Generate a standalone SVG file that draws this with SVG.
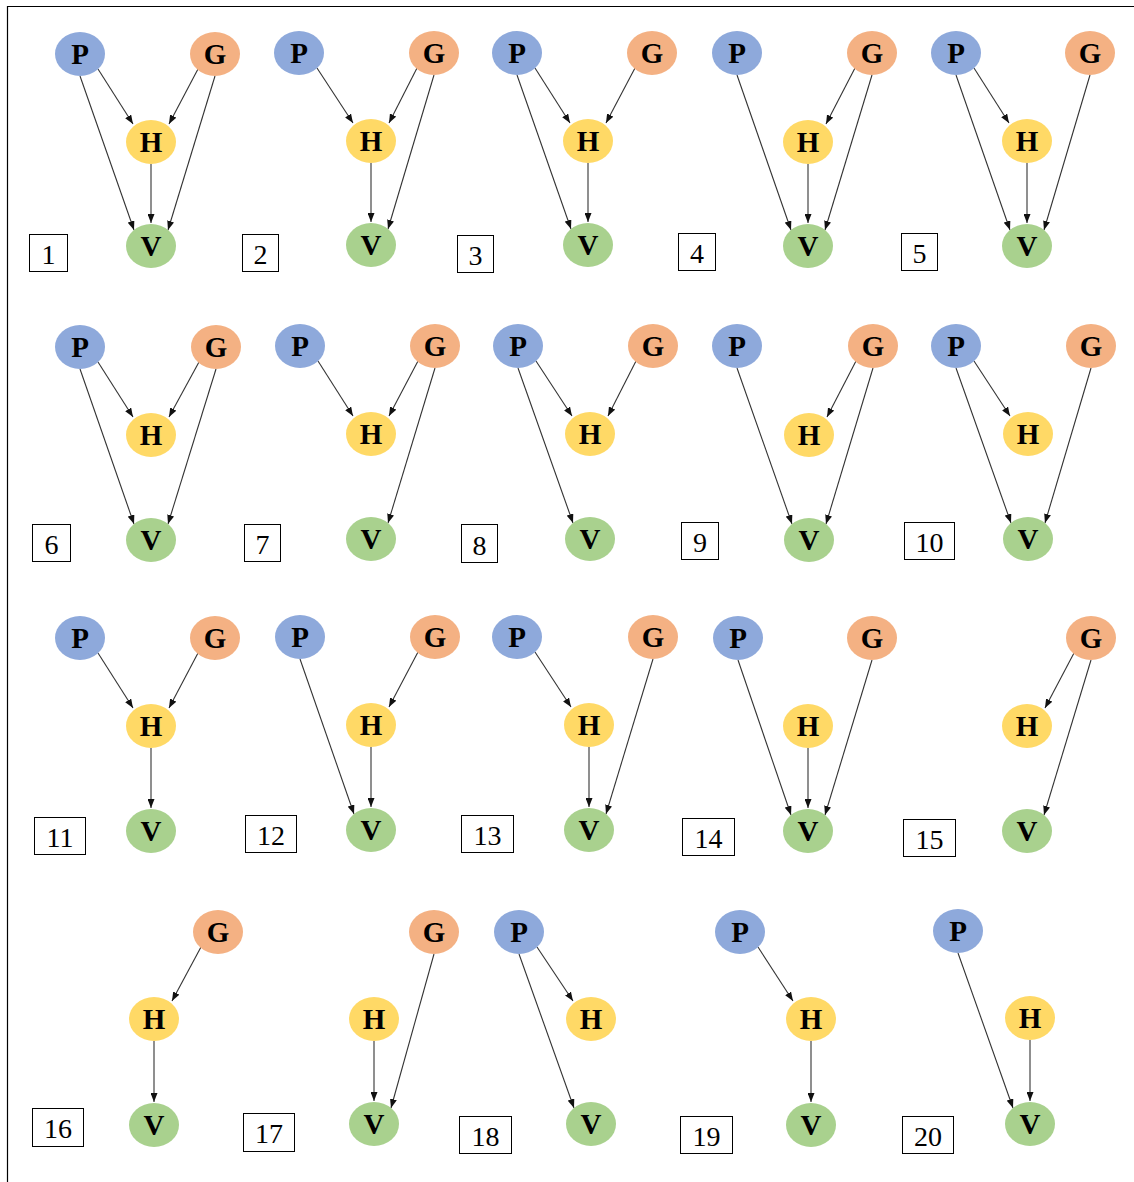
<svg xmlns="http://www.w3.org/2000/svg" width="1134" height="1182" viewBox="0 0 1134 1182">
<style>
.n{stroke:none}
.p{fill:#8EA9DB}.g{fill:#F4B183}.h{fill:#FFD966}.v{fill:#A9D18E}
.lb{font-family:"Liberation Serif","Times New Roman",serif;font-weight:bold;font-size:29px;fill:#000;text-anchor:middle}
.bx{fill:#fff;stroke:#000;stroke-width:1}
.num{font-family:"Liberation Serif","Times New Roman",serif;font-size:28px;fill:#000;text-anchor:middle}
.e{stroke:#333;stroke-width:1.1;fill:none;marker-end:url(#ah)}
.frame{stroke:#000;stroke-width:1.2;fill:none}
</style>
<defs>
<marker id="ah" markerUnits="userSpaceOnUse" markerWidth="9" markerHeight="7" refX="9" refY="3.5" orient="auto">
<path d="M0,0 L9,3.5 L0,7 z" fill="#111"/>
</marker>
<g id="nP"><ellipse class="p" rx="25" ry="22"/><text class="lb" y="10">P</text></g>
<g id="nG"><ellipse class="g" rx="25" ry="22"/><text class="lb" y="10">G</text></g>
<g id="nH"><ellipse class="h" rx="25" ry="22"/><text class="lb" y="10">H</text></g>
<g id="nV"><ellipse class="v" rx="25" ry="22"/><text class="lb" y="10">V</text></g>
</defs>
<rect width="1134" height="1182" fill="#fff"/>
<path class="frame" d="M7.5,1182 L7.5,6.5 L1134,6.5"/>

<g id="connectors">
<line class="e" x1="98" y1="69" x2="133" y2="124"/>
<line class="e" x1="198" y1="69" x2="169" y2="124"/>
<line class="e" x1="80" y1="76" x2="134" y2="230"/>
<line class="e" x1="215" y1="76" x2="168" y2="230"/>
<line class="e" x1="151" y1="164" x2="151" y2="223"/>

<line class="e" x1="317" y1="68" x2="353" y2="123"/>
<line class="e" x1="417" y1="68" x2="389" y2="123"/>
<line class="e" x1="434" y1="75" x2="388" y2="229"/>
<line class="e" x1="371" y1="163" x2="371" y2="222"/>

<line class="e" x1="535" y1="68" x2="570" y2="123"/>
<line class="e" x1="635" y1="68" x2="606" y2="123"/>
<line class="e" x1="517" y1="75" x2="571" y2="229"/>
<line class="e" x1="588" y1="163" x2="588" y2="222"/>

<line class="e" x1="855" y1="68" x2="826" y2="124"/>
<line class="e" x1="737" y1="75" x2="791" y2="230"/>
<line class="e" x1="808" y1="164" x2="808" y2="223"/>
<line class="e" x1="872" y1="75" x2="825" y2="230"/>

<line class="e" x1="974" y1="68" x2="1009" y2="123"/>
<line class="e" x1="956" y1="75" x2="1010" y2="230"/>
<line class="e" x1="1027" y1="163" x2="1027" y2="223"/>
<line class="e" x1="1090" y1="75" x2="1044" y2="230"/>

<line class="e" x1="98" y1="362" x2="133" y2="417"/>
<line class="e" x1="199" y1="362" x2="169" y2="417"/>
<line class="e" x1="80" y1="369" x2="134" y2="524"/>
<line class="e" x1="216" y1="369" x2="168" y2="524"/>

<line class="e" x1="318" y1="361" x2="353" y2="416"/>
<line class="e" x1="418" y1="361" x2="389" y2="416"/>
<line class="e" x1="435" y1="368" x2="388" y2="523"/>

<line class="e" x1="536" y1="361" x2="572" y2="416"/>
<line class="e" x1="636" y1="361" x2="608" y2="416"/>
<line class="e" x1="518" y1="368" x2="573" y2="523"/>

<line class="e" x1="856" y1="361" x2="827" y2="417"/>
<line class="e" x1="737" y1="368" x2="792" y2="524"/>
<line class="e" x1="873" y1="368" x2="826" y2="524"/>

<line class="e" x1="974" y1="361" x2="1010" y2="416"/>
<line class="e" x1="956" y1="368" x2="1011" y2="523"/>
<line class="e" x1="1091" y1="368" x2="1045" y2="523"/>

<line class="e" x1="98" y1="653" x2="133" y2="708"/>
<line class="e" x1="198" y1="653" x2="169" y2="708"/>
<line class="e" x1="151" y1="748" x2="151" y2="808"/>

<line class="e" x1="418" y1="652" x2="389" y2="707"/>
<line class="e" x1="300" y1="659" x2="354" y2="814"/>
<line class="e" x1="371" y1="747" x2="371" y2="807"/>

<line class="e" x1="535" y1="652" x2="571" y2="707"/>
<line class="e" x1="589" y1="747" x2="589" y2="807"/>
<line class="e" x1="653" y1="659" x2="606" y2="814"/>

<line class="e" x1="738" y1="660" x2="791" y2="815"/>
<line class="e" x1="808" y1="748" x2="808" y2="808"/>
<line class="e" x1="872" y1="660" x2="825" y2="815"/>

<line class="e" x1="1074" y1="653" x2="1045" y2="708"/>
<line class="e" x1="1091" y1="660" x2="1044" y2="815"/>

<line class="e" x1="201" y1="947" x2="172" y2="1001"/>
<line class="e" x1="154" y1="1041" x2="154" y2="1102"/>

<line class="e" x1="374" y1="1041" x2="374" y2="1101"/>
<line class="e" x1="434" y1="954" x2="391" y2="1108"/>

<line class="e" x1="537" y1="947" x2="573" y2="1001"/>
<line class="e" x1="519" y1="954" x2="574" y2="1108"/>

<line class="e" x1="758" y1="947" x2="793" y2="1001"/>
<line class="e" x1="811" y1="1041" x2="811" y2="1102"/>

<line class="e" x1="958" y1="953" x2="1013" y2="1108"/>
<line class="e" x1="1030" y1="1040" x2="1030" y2="1101"/>
</g>

<g id="panel1">
<g id="p1-P"><use href="#nP" x="80" y="54"/></g><g id="p1-G"><use href="#nG" x="215" y="54"/></g>
<g id="p1-H"><use href="#nH" x="151" y="142"/></g><g id="p1-V"><use href="#nV" x="151" y="246"/></g>
<g id="p1-label"><rect class="bx" x="29.5" y="234.5" width="38" height="37"/><text class="num" x="48.5" y="264">1</text></g>
</g>
<g id="panel2">
<g id="p2-P"><use href="#nP" x="299" y="53"/></g><g id="p2-G"><use href="#nG" x="434" y="53"/></g>
<g id="p2-H"><use href="#nH" x="371" y="141"/></g><g id="p2-V"><use href="#nV" x="371" y="245"/></g>
<g id="p2-label"><rect class="bx" x="242.5" y="234.5" width="36" height="37"/><text class="num" x="260.5" y="264">2</text></g>
</g>
<g id="panel3">
<g id="p3-P"><use href="#nP" x="517" y="53"/></g><g id="p3-G"><use href="#nG" x="652" y="53"/></g>
<g id="p3-H"><use href="#nH" x="588" y="141"/></g><g id="p3-V"><use href="#nV" x="588" y="245"/></g>
<g id="p3-label"><rect class="bx" x="457.5" y="235.5" width="36" height="37"/><text class="num" x="475.5" y="265">3</text></g>
</g>
<g id="panel4">
<g id="p4-P"><use href="#nP" x="737" y="53"/></g><g id="p4-G"><use href="#nG" x="872" y="53"/></g>
<g id="p4-H"><use href="#nH" x="808" y="142"/></g><g id="p4-V"><use href="#nV" x="808" y="246"/></g>
<g id="p4-label"><rect class="bx" x="678.5" y="233.5" width="37" height="37"/><text class="num" x="697" y="263">4</text></g>
</g>
<g id="panel5">
<g id="p5-P"><use href="#nP" x="956" y="53"/></g><g id="p5-G"><use href="#nG" x="1090" y="53"/></g>
<g id="p5-H"><use href="#nH" x="1027" y="141"/></g><g id="p5-V"><use href="#nV" x="1027" y="246"/></g>
<g id="p5-label"><rect class="bx" x="901.5" y="233.5" width="36" height="37"/><text class="num" x="919.5" y="263">5</text></g>
</g>

<g id="panel6">
<g id="p6-P"><use href="#nP" x="80" y="347"/></g><g id="p6-G"><use href="#nG" x="216" y="347"/></g>
<g id="p6-H"><use href="#nH" x="151" y="435"/></g><g id="p6-V"><use href="#nV" x="151" y="540"/></g>
<g id="p6-label"><rect class="bx" x="32.5" y="524.5" width="38" height="37"/><text class="num" x="51.5" y="554">6</text></g>
</g>
<g id="panel7">
<g id="p7-P"><use href="#nP" x="300" y="346"/></g><g id="p7-G"><use href="#nG" x="435" y="346"/></g>
<g id="p7-H"><use href="#nH" x="371" y="434"/></g><g id="p7-V"><use href="#nV" x="371" y="539"/></g>
<g id="p7-label"><rect class="bx" x="244.5" y="524.5" width="36" height="37"/><text class="num" x="262.5" y="554">7</text></g>
</g>
<g id="panel8">
<g id="p8-P"><use href="#nP" x="518" y="346"/></g><g id="p8-G"><use href="#nG" x="653" y="346"/></g>
<g id="p8-H"><use href="#nH" x="590" y="434"/></g><g id="p8-V"><use href="#nV" x="590" y="539"/></g>
<g id="p8-label"><rect class="bx" x="461.5" y="524.5" width="36" height="38"/><text class="num" x="479.5" y="555">8</text></g>
</g>
<g id="panel9">
<g id="p9-P"><use href="#nP" x="737" y="346"/></g><g id="p9-G"><use href="#nG" x="873" y="346"/></g>
<g id="p9-H"><use href="#nH" x="809" y="435"/></g><g id="p9-V"><use href="#nV" x="809" y="540"/></g>
<g id="p9-label"><rect class="bx" x="681.5" y="522.5" width="37" height="37"/><text class="num" x="700" y="552">9</text></g>
</g>
<g id="panel10">
<g id="p10-P"><use href="#nP" x="956" y="346"/></g><g id="p10-G"><use href="#nG" x="1091" y="346"/></g>
<g id="p10-H"><use href="#nH" x="1028" y="434"/></g><g id="p10-V"><use href="#nV" x="1028" y="539"/></g>
<g id="p10-label"><rect class="bx" x="904.5" y="522.5" width="50" height="37"/><text class="num" x="929.5" y="552">10</text></g>
</g>

<g id="panel11">
<g id="p11-P"><use href="#nP" x="80" y="638"/></g><g id="p11-G"><use href="#nG" x="215" y="638"/></g>
<g id="p11-H"><use href="#nH" x="151" y="726"/></g><g id="p11-V"><use href="#nV" x="151" y="831"/></g>
<g id="p11-label"><rect class="bx" x="34.5" y="817.5" width="51" height="37"/><text class="num" x="60" y="847">11</text></g>
</g>
<g id="panel12">
<g id="p12-P"><use href="#nP" x="300" y="637"/></g><g id="p12-G"><use href="#nG" x="435" y="637"/></g>
<g id="p12-H"><use href="#nH" x="371" y="725"/></g><g id="p12-V"><use href="#nV" x="371" y="830"/></g>
<g id="p12-label"><rect class="bx" x="245.5" y="815.5" width="51" height="37"/><text class="num" x="271" y="845">12</text></g>
</g>
<g id="panel13">
<g id="p13-P"><use href="#nP" x="517" y="637"/></g><g id="p13-G"><use href="#nG" x="653" y="637"/></g>
<g id="p13-H"><use href="#nH" x="589" y="725"/></g><g id="p13-V"><use href="#nV" x="589" y="830"/></g>
<g id="p13-label"><rect class="bx" x="461.5" y="815.5" width="52" height="37"/><text class="num" x="487.5" y="845">13</text></g>
</g>
<g id="panel14">
<g id="p14-P"><use href="#nP" x="738" y="638"/></g><g id="p14-G"><use href="#nG" x="872" y="638"/></g>
<g id="p14-H"><use href="#nH" x="808" y="726"/></g><g id="p14-V"><use href="#nV" x="808" y="831"/></g>
<g id="p14-label"><rect class="bx" x="682.5" y="818.5" width="52" height="37"/><text class="num" x="708.5" y="848">14</text></g>
</g>
<g id="panel15">
<g id="p15-G"><use href="#nG" x="1091" y="638"/></g>
<g id="p15-H"><use href="#nH" x="1027" y="726"/></g><g id="p15-V"><use href="#nV" x="1027" y="831"/></g>
<g id="p15-label"><rect class="bx" x="903.5" y="819.5" width="52" height="37"/><text class="num" x="929.5" y="849">15</text></g>
</g>

<g id="panel16">
<g id="p16-G"><use href="#nG" x="218" y="932"/></g>
<g id="p16-H"><use href="#nH" x="154" y="1019"/></g><g id="p16-V"><use href="#nV" x="154" y="1125"/></g>
<g id="p16-label"><rect class="bx" x="32.5" y="1108.5" width="51" height="38"/><text class="num" x="58" y="1138">16</text></g>
</g>
<g id="panel17">
<g id="p17-G"><use href="#nG" x="434" y="932"/></g>
<g id="p17-H"><use href="#nH" x="374" y="1019"/></g><g id="p17-V"><use href="#nV" x="374" y="1124"/></g>
<g id="p17-label"><rect class="bx" x="243.5" y="1113.5" width="51" height="38"/><text class="num" x="269" y="1143">17</text></g>
</g>
<g id="panel18">
<g id="p18-P"><use href="#nP" x="519" y="932"/></g>
<g id="p18-H"><use href="#nH" x="591" y="1019"/></g><g id="p18-V"><use href="#nV" x="591" y="1124"/></g>
<g id="p18-label"><rect class="bx" x="459.5" y="1116.5" width="52" height="37"/><text class="num" x="485.5" y="1146">18</text></g>
</g>
<g id="panel19">
<g id="p19-P"><use href="#nP" x="740" y="932"/></g>
<g id="p19-H"><use href="#nH" x="811" y="1019"/></g><g id="p19-V"><use href="#nV" x="811" y="1125"/></g>
<g id="p19-label"><rect class="bx" x="680.5" y="1116.5" width="52" height="37"/><text class="num" x="706.5" y="1146">19</text></g>
</g>
<g id="panel20">
<g id="p20-P"><use href="#nP" x="958" y="931"/></g>
<g id="p20-H"><use href="#nH" x="1030" y="1018"/></g><g id="p20-V"><use href="#nV" x="1030" y="1124"/></g>
<g id="p20-label"><rect class="bx" x="902.5" y="1116.5" width="51" height="37"/><text class="num" x="928" y="1146">20</text></g>
</g>
</svg>
